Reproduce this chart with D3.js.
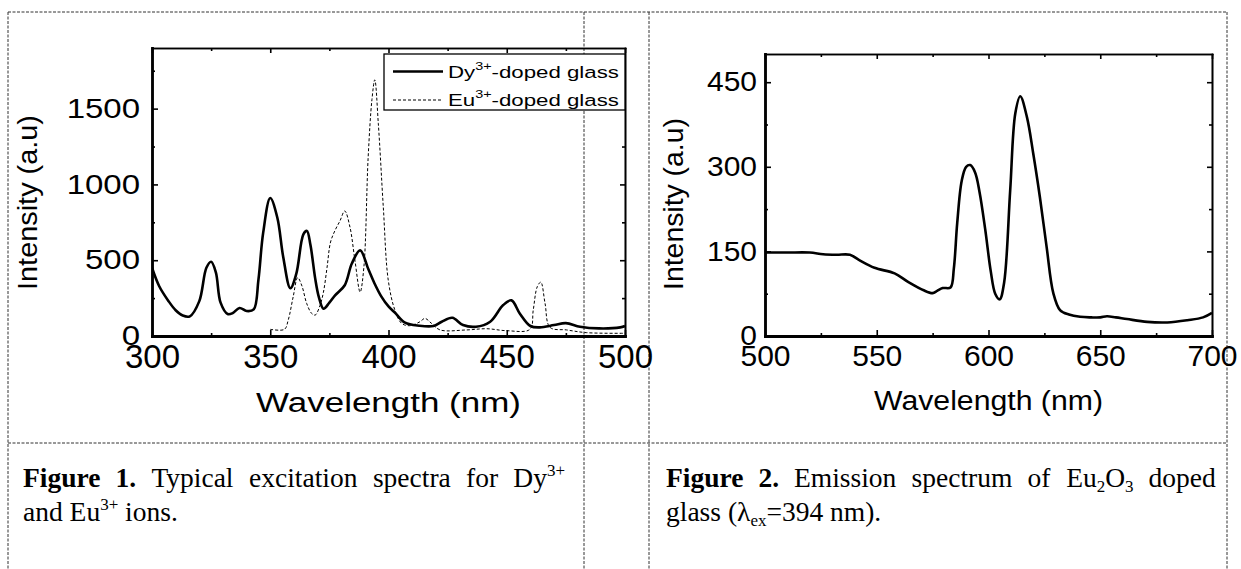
<!DOCTYPE html>
<html><head><meta charset="utf-8">
<script src="https://cdn.jsdelivr.net/npm/d3@7"></script>
<style>
html,body{margin:0;padding:0;background:#fff;}
svg{display:block;}
</style></head>
<body>
<svg id="c" width="1241" height="569"></svg>
<script>
// ---------- DATA ----------
const dyWavelength = [300,303,307,310,313,316,320,323,325,327,329,332,334,337,340,343,345,347,350,353,355.5,358.5,361,364,365.5,367,369,370.5,372.5,375,377.5,381.5,384.5,388,391.5,394,397,400,403,407,413,419,422.5,427,431.5,437,443,448.5,452,455.5,460,464,470,475,481,489,498,500];
const dyIntensity  = [450,330,230,170,135,130,230,450,490,420,220,145,150,185,165,175,370,680,910,780,520,315,410,670,693,600,380,260,180,220,270,335,478,565,440,350,260,195,149,88,68,66,94,120,72,61,94,204,235,149,66,57,72,85,61,50,57,66];
const euWavelength = [350,356,357.6,359.7,361.6,363.4,365.4,367.5,369,371,372.5,374,375.5,377.5,379.5,381.5,383.7,385.8,388,389.6,391.4,393,394.2,395.7,397.8,399.9,402.7,405.6,409,413.3,415.4,418.2,421.8,433,441.5,450,459.8,461.2,462.9,464.4,466.2,468.3,475.3,483.8,500];
const euIntensity  = [44,44,105,259,385,330,215,149,138,200,290,450,620,700,760,825,719,500,290,456,1180,1560,1690,1400,851,368,171,83,68,94,116,83,40,40,48,35,44,171,325,355,215,57,40,22,18];
const emWavelength = [500,510,520,526,532,538,542,549,558,564,571,575,577,579.5,583,584.5,586,588,590,591.8,594,596,598.5,601,603,605,607,609.7,612,614.2,617.2,620,623,626,629,632,636,641,646,650,653,657,662,671,680,689,696,700];
const emIntensity  = [148,148,148,145,144,144,135,121,111,96,81,76,80,85,86,120,200,275,300,303,290,255,190,115,75,65,95,258,395,425,388,324,246,158,76,46,38,34,33,33,35,33,30,25,24,28,33,41];
const fig1XTicks = [300,350,400,450,500];
const fig1XMinor = [325,375,425,475];
const fig1YTicks = [0,500,1000,1500];
const fig1YMinor = [250,750,1250,1750];
const fig2XTicks = [500,550,600,650,700];
const fig2XMinor = [525,575,625,675];
const fig2YTicks = [0,150,300,450];
const fig2YMinor = [75,225,375];
const legendNames = ["Dy","Eu"];
const axisXTitle = "Wavelength (nm)";
const axisYTitle = "Intensity (a.u)";

// ---------- DRAW ----------
const svg = d3.select('#c');
const SANS = '"Liberation Sans", Arial, sans-serif';
const SERIF = '"Liberation Serif", "Times New Roman", serif';

// table grid (dashed)
const tbl = svg.append('g').attr('stroke','#333').attr('stroke-width',1).attr('stroke-dasharray','3,1.5').attr('fill','none');
const colX = [8,584,649,1227], tTop = 12, rowY = 443;
tbl.append('line').attr('x1',8).attr('x2',1227).attr('y1',tTop).attr('y2',tTop);
tbl.append('line').attr('x1',8).attr('x2',1227).attr('y1',rowY).attr('y2',rowY);
colX.forEach(cx => tbl.append('line').attr('x1',cx).attr('x2',cx).attr('y1',tTop).attr('y2',569));

function fitText(sel, target){
  const w = sel.node().getBBox().width;
  return target / w;
}

function drawPanel(c){
  const x = d3.scaleLinear().domain(c.xd).range([c.l,c.r]);
  const y = d3.scaleLinear().domain(c.yd).range([c.b,c.t]);
  const g = svg.append('g');
  const fmt = d3.format('d');
  const gb = g.append('g').attr('transform',`translate(0,${c.b})`)
    .call(d3.axisBottom(x).tickValues(c.xt).tickSizeInner(-6).tickSizeOuter(0).tickPadding(c.xpad).tickFormat(fmt));
  g.append('g').attr('transform',`translate(0,${c.b})`)
    .call(d3.axisBottom(x).tickValues(c.xm).tickSizeInner(-3).tickSizeOuter(0).tickFormat(''));
  g.append('g').attr('transform',`translate(0,${c.t})`)
    .call(d3.axisTop(x).tickValues(c.xt).tickSizeInner(-5).tickSizeOuter(0).tickFormat(''));
  g.append('g').attr('transform',`translate(0,${c.t})`)
    .call(d3.axisTop(x).tickValues(c.xm).tickSizeInner(-3).tickSizeOuter(0).tickFormat(''));
  const gl = g.append('g').attr('transform',`translate(${c.l},0)`)
    .call(d3.axisLeft(y).tickValues(c.yt).tickSizeInner(-6).tickSizeOuter(0).tickPadding(c.ypad).tickFormat(fmt));
  g.append('g').attr('transform',`translate(${c.l},0)`)
    .call(d3.axisLeft(y).tickValues(c.ym).tickSizeInner(-3).tickSizeOuter(0).tickFormat(''));
  g.append('g').attr('transform',`translate(${c.r},0)`)
    .call(d3.axisRight(y).tickValues(c.yt).tickSizeInner(-5).tickSizeOuter(0).tickFormat(''));
  g.append('g').attr('transform',`translate(${c.r},0)`)
    .call(d3.axisRight(y).tickValues(c.ym).tickSizeInner(-3).tickSizeOuter(0).tickFormat(''));
  g.selectAll('.tick line').attr('stroke','#000').attr('stroke-width',1.6);
  g.selectAll('.domain').attr('stroke','#000').attr('stroke-width',1.6).attr('stroke-linecap','square');
  gb.select('.domain').attr('stroke-width',2.8);
  gl.select('.domain').attr('stroke-width',2.8);
  gb.selectAll('text').attr('font-family',SANS).attr('font-size',c.xfs).attr('fill','#000');
  gl.selectAll('text').attr('font-family',SANS).attr('font-size',c.yfs).attr('fill','#000')
    .attr('transform',`scale(1,${c.ysq})`);
  const xt = g.append('text').attr('font-family',SANS).attr('font-size',c.tfs).attr('text-anchor','middle').text(axisXTitle);
  xt.attr('transform',`translate(${(c.l+c.r)/2},${c.xtb}) scale(${fitText(xt,c.xtw)},1)`);
  const yt = g.append('text').attr('font-family',SANS).attr('font-size',c.tfs).attr('text-anchor','middle').text(axisYTitle);
  yt.attr('transform',`translate(${c.ytb},${c.ytc}) rotate(-90) scale(${fitText(yt,c.ytw)},1)`);
  return {x,y,g};
}

// ----- Figure 1 -----
const p1 = drawPanel({l:152,r:625,t:48,b:336,xd:[300,500],yd:[0,1900],
  xt:fig1XTicks,xm:fig1XMinor,yt:fig1YTicks,ym:fig1YMinor,
  xpad:9,ypad:12,xfs:33,yfs:33,ysq:0.82,tfs:28,xtb:411.5,xtw:265,ytb:37,ytc:202.5,ytw:175});
svg.append('clipPath').attr('id','clip1').append('rect').attr('x',152).attr('y',48).attr('width',473).attr('height',288);
const line1 = d3.line().x(d=>p1.x(d[0])).y(d=>p1.y(d[1])).curve(d3.curveCatmullRom.alpha(0.5));
const pl1 = svg.append('g').attr('clip-path','url(#clip1)');
pl1.append('path').datum(d3.zip(euWavelength,euIntensity)).attr('d',line1)
  .attr('fill','none').attr('stroke','#000').attr('stroke-width',1).attr('stroke-dasharray','3,2');
pl1.append('path').datum(d3.zip(dyWavelength,dyIntensity)).attr('d',line1)
  .attr('fill','none').attr('stroke','#000').attr('stroke-width',2.6).attr('stroke-linejoin','round');

// legend
const lg = svg.append('g');
lg.append('rect').attr('x',384).attr('y',54).attr('width',241).attr('height',56)
  .attr('fill','#fff').attr('stroke','#000').attr('stroke-width',1.3);
const legendRows = [{y:71.5, base:77.5, w:2.6, dash:null},{y:100, base:105.5, w:1, dash:'3,2'}];
legendNames.forEach((nm,i)=>{
  const r = legendRows[i];
  lg.append('line').attr('x1',393).attr('x2',443).attr('y1',r.y).attr('y2',r.y)
    .attr('stroke','#000').attr('stroke-width',r.w).attr('stroke-dasharray',r.dash);
  const t = lg.append('text').attr('font-family',SANS).attr('font-size',17).attr('fill','#000');
  t.append('tspan').text(nm);
  t.append('tspan').attr('font-size',11).attr('dy',-8).text('3+');
  t.append('tspan').attr('dy',8).text('-doped glass');
  t.attr('transform',`translate(448,${r.base}) scale(${fitText(t,171)},1)`);
});

// ----- Figure 2 -----
const p2 = drawPanel({l:765,r:1212,t:54,b:336,xd:[500,700],yd:[0,500],
  xt:fig2XTicks,xm:fig2XMinor,yt:fig2YTicks,ym:fig2YMinor,
  xpad:9,ypad:8,xfs:30,yfs:30,ysq:0.9,tfs:28,xtb:410,xtw:229,ytb:683,ytc:204,ytw:172});
const line2 = d3.line().x(d=>p2.x(d[0])).y(d=>p2.y(d[1])).curve(d3.curveCatmullRom.alpha(0.5));
svg.append('path').datum(d3.zip(emWavelength,emIntensity)).attr('d',line2)
  .attr('fill','none').attr('stroke','#000').attr('stroke-width',2.6).attr('stroke-linejoin','round');

// ----- Captions -----
const CFS = 27.5;
function addWord(parent, segs){
  const t = parent.append('text').attr('font-family',SERIF).attr('font-size',CFS).attr('fill','#000');
  let shift = 0;
  segs.forEach(s=>{
    const ts = t.append('tspan').text(s[0]);
    let target = 0;
    if(s[1]==='b') ts.attr('font-weight','bold');
    if(s[1]==='sup'){ ts.attr('font-size',17); target=-11; }
    if(s[1]==='sub'){ ts.attr('font-size',17); target=5; }
    ts.attr('dy', target - shift); shift = target;
  });
  return t;
}
function justifyLine(words, x0, x1, base){
  const g = svg.append('g');
  const els = words.map(w=>addWord(g,w));
  const widths = els.map(e=>e.node().getBBox().width);
  const total = d3.sum(widths);
  const gap = (x1-x0-total)/(words.length-1);
  let cx = x0;
  els.forEach((e,i)=>{ e.attr('x',cx).attr('y',base); e.selectAll('tspan').filter((d,j)=>j===0).attr('x',cx); cx += widths[i]+gap; });
}
function plainLine(segs, x0, base){
  const g = svg.append('g');
  const t = addWord(g, segs);
  t.attr('x',x0).attr('y',base);
  t.select('tspan').attr('x',x0);
}
justifyLine([[["Figure","b"]],[["1.","b"]],[["Typical"]],[["excitation"]],[["spectra"]],[["for"]],[["Dy"],["3+","sup"]]], 23, 565, 487);
plainLine([["and Eu"],["3+","sup"],[" ions."]], 23, 521);
justifyLine([[["Figure","b"]],[["2.","b"]],[["Emission"]],[["spectrum"]],[["of"]],[["Eu"],["2","sub"],["O"],["3","sub"]],[["doped"]]], 666, 1216, 487);
plainLine([["glass (λ"],["ex","sub"],["=394 nm)."]], 666, 521);
</script>
</body></html>
